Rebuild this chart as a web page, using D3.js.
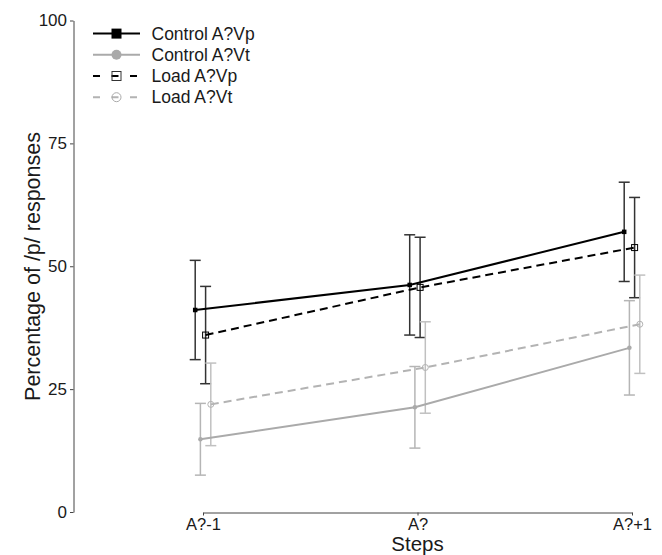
<!DOCTYPE html>
<html lang="en">
<head>
<meta charset="UTF-8">
<script src="https://d3js.org/d3.v7.min.js"></script>
<style>
  body { margin: 0; background: #fff; }
  #plot { position: absolute; width: 662px; height: 555px; }
  text { font-family: "Liberation Sans", Arial, Helvetica, sans-serif; fill: #1a1a1a; }
</style>
</head>
<body>
<div id="plot"></div>
<script>
// data
const steps = ["A?-1", "A?", "A?+1"];
const seriesNames = ["Control A?Vp", "Control A?Vt", "Load A?Vp", "Load A?Vt"];
const controlVp = [41.1, 46.2, 57.0];
const controlVpErr = [10.1, 10.2, 10.1];
const controlVt = [14.8, 21.3, 33.4];
const controlVtErr = [7.3, 8.3, 9.6];
const loadVp = [36.0, 45.7, 53.8];
const loadVpErr = [9.9, 10.2, 10.2];
const loadVt = [21.9, 29.4, 38.2];
const loadVtErr = [8.4, 9.3, 10.0];
const yTicks = [0, 25, 50, 75, 100];

const series = [
  {name: seriesNames[0], values: controlVp, err: controlVpErr, color: "#000", errColor: "#333", dash: null, shape: "square", filled: true},
  {name: seriesNames[1], values: controlVt, err: controlVtErr, color: "#aaa", errColor: "#b5b5b5", dash: null, shape: "circle", filled: true},
  {name: seriesNames[2], values: loadVp, err: loadVpErr, color: "#000", errColor: "#333", dash: "8,5", shape: "square", filled: false},
  {name: seriesNames[3], values: loadVt, err: loadVtErr, color: "#b3b3b3", errColor: "#c0c0c0", dash: "8,5", shape: "circle", filled: false}
];

const width = 662, height = 555;
const svg = d3.select("#plot").append("svg")
    .attr("width", width)
    .attr("height", height);

// scales
const x = d3.scalePoint().domain(steps).range([203, 632]);
const dodge = d3.scaleBand().domain(seriesNames).range([-10.4, 10.4]);
const y = d3.scaleLinear().domain([0, 100]).range([512, 20.5]);
const px = (s, i) => x(steps[i]) + dodge(s.name) + dodge.bandwidth() / 2;

// y axis
const yAxis = svg.append("g")
    .attr("transform", "translate(73.5,0)")
    .call(d3.axisLeft(y).tickValues(yTicks).tickSize(3.5).tickPadding(3).tickSizeOuter(0));
yAxis.select(".domain").attr("stroke", "#444").attr("stroke-width", 1);
yAxis.selectAll(".tick line").attr("stroke", "#444");
yAxis.selectAll("text").style("font-size", "17px").attr("fill", "#1a1a1a");

// x axis
const xAxis = svg.append("g")
    .attr("transform", "translate(0,512.5)")
    .call(d3.axisBottom(x).tickSize(3).tickPadding(2.5).tickSizeOuter(0));
xAxis.select(".domain").attr("stroke", "#444").attr("stroke-width", 1);
xAxis.selectAll(".tick line").attr("stroke", "#444");
xAxis.selectAll("text").style("font-size", "16.5px").attr("fill", "#1a1a1a");

// axis titles
svg.append("text")
    .attr("x", 417.5)
    .attr("y", 551)
    .attr("text-anchor", "middle")
    .style("font-size", "20.5px")
    .text("Steps");

svg.append("text")
    .attr("transform", "translate(40,266.5) rotate(-90)")
    .attr("text-anchor", "middle")
    .style("font-size", "21.5px")
    .text("Percentage of /p/ responses");

// error bars
const capW = 5.5;
series.forEach(s => {
  const g = svg.append("g").attr("stroke", s.errColor).attr("stroke-width", 1.5);
  s.values.forEach((v, i) => {
    const cx = px(s, i);
    const top = y(v + s.err[i]), bot = y(v - s.err[i]);
    g.append("line").attr("x1", cx).attr("x2", cx).attr("y1", top).attr("y2", bot);
    g.append("line").attr("x1", cx - capW).attr("x2", cx + capW).attr("y1", top).attr("y2", top);
    g.append("line").attr("x1", cx - capW).attr("x2", cx + capW).attr("y1", bot).attr("y2", bot);
  });
});

// lines
const line = d3.line().x(d => d[0]).y(d => d[1]);
series.forEach(s => {
  svg.append("path")
      .attr("d", line(s.values.map((v, i) => [px(s, i), y(v)])))
      .attr("fill", "none")
      .attr("stroke", s.color)
      .attr("stroke-width", 2)
      .attr("stroke-dasharray", s.dash);
});

function marker(g, s, cx, cy, size) {
  let m;
  if (s.shape === "square") {
    m = g.append("rect").attr("x", cx - size / 2).attr("y", cy - size / 2)
        .attr("width", size).attr("height", size);
  } else {
    m = g.append("circle").attr("cx", cx).attr("cy", cy).attr("r", size / 2);
  }
  if (s.filled) m.attr("fill", s.color).attr("stroke", "none");
  else m.attr("fill", "none").attr("stroke", s.color).attr("stroke-width", 1);
}

// points
series.forEach(s => {
  const g = svg.append("g");
  s.values.forEach((v, i) => marker(g, s, px(s, i), y(v), s.filled ? 4.5 : 6));
});

// legend
const legendRows = [33.6, 54.8, 76, 97.2];
series.forEach((s, k) => {
  const g = svg.append("g").attr("transform", `translate(0,${legendRows[k]})`);
  g.append("line")
      .attr("x1", 93).attr("x2", 140).attr("y1", 0).attr("y2", 0)
      .attr("stroke", s.color)
      .attr("stroke-width", 2)
      .attr("stroke-dasharray", s.dash ? "7,11.5" : null);
  const ls = Object.assign({}, s, {color: s.filled ? s.color : (s.color === "#000" ? "#333" : "#aaa")});
  marker(g, ls, 116.5, 0, s.filled ? 10 : 9);
  g.append("text")
      .attr("x", 151.5)
      .attr("y", 0)
      .attr("dy", "0.35em")
      .style("font-size", "17.5px")
      .text(s.name);
});
</script>
</body>
</html>
